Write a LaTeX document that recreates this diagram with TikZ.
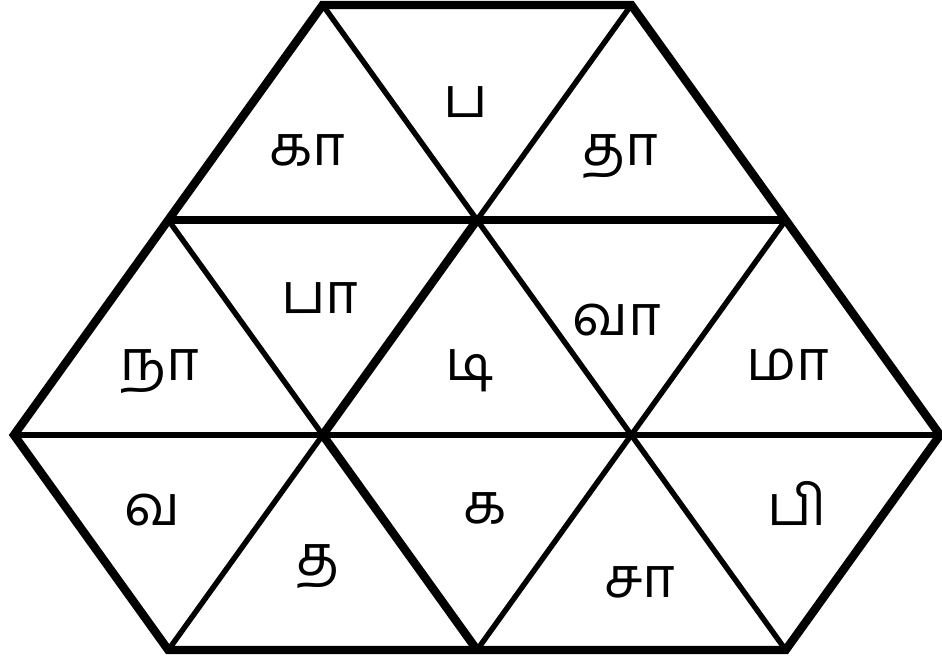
\documentclass[tikz,border=0pt]{standalone}
\usepackage{fontspec}
\newfontfamily\tamilfont[Script=Tamil]{Hind Madurai}
\usepackage{xcolor}
\tikzset{
  heavyline/.style={draw=black,line width=4.8pt,line join=miter},
  lightline/.style={draw=black,line width=3.1pt},
  letter/.style={anchor=base,inner sep=0pt,font=\tamilfont\fontsize{32}{38}\selectfont},
}

\begin{document}
\begin{tikzpicture}[x=0.02cm, y=-0.02cm]
  \useasboundingbox (0,0) rectangle (942,659);
  % vertices
  \coordinate (t1) at (322.7,5);
  \coordinate (t2) at (631.3,5);
  \coordinate (m1) at (168.3,220);
  \coordinate (m2) at (477,220);
  \coordinate (m3) at (785.7,220);
  \coordinate (l0) at (14,435);
  \coordinate (l1) at (322.7,435);
  \coordinate (l2) at (631.3,435);
  \coordinate (l3) at (940,435);
  \coordinate (b1) at (168.3,650);
  \coordinate (b2) at (477,650);
  \coordinate (b3) at (785.7,650);
  % thin inner lines
  \draw[lightline] (l0) -- (l3);
  \draw[lightline] (t1) -- (m2) -- (t2);
  \draw[lightline] (m1) -- (l1) -- (b1);
  \draw[lightline] (m2) -- (l2) -- (b2);
  \draw[lightline] (m3) -- (l2) -- (b3);
  % heavy lines
  \draw[heavyline] (m1) -- (m3);
  \draw[heavyline] (m2) -- (l1) -- (b2);
  \draw[heavyline] (t1) -- (t2) -- (m3) -- (l3) -- (b3) -- (b1) -- (l0) -- (m1) -- cycle;
  % letters
  \node[letter] (ka1) at (307,165) {கா};
  \node[letter] (pa1) at (466,117) {ப};
  \node[letter] (tha1) at (620,165) {தா};
  \node[letter] (na) at (160,380) {நா};
  \node[letter] (pa2) at (320,313) {பா};
  \node[letter] (di) at (470,380) {டி};
  \node[letter] (va1) at (617,335) {வா};
  \node[letter] (ma) at (788,380) {மா};
  \node[letter] (va2) at (152,525) {வ};
  \node[letter] (tha2) at (318,575) {த};
  \node[letter] (ka2) at (485,523) {க};
  \node[letter] (sa) at (640,597) {சா};
  \node[letter] (pi) at (797,525) {பி};
\end{tikzpicture}
\end{document}
